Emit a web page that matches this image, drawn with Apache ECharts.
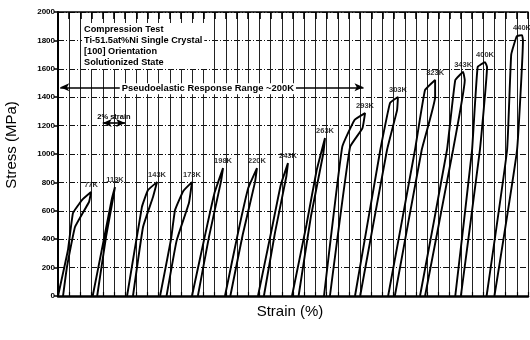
<!DOCTYPE html>
<html><head><meta charset="utf-8">
<script src="https://cdn.jsdelivr.net/npm/echarts@6/dist/echarts.min.js"></script>
<style>html,body{margin:0;padding:0;background:#fff}#c{width:530px;height:340px}</style>
</head><body><div id="c"></div>
<script>
// Temperature labels for each loading/unloading loop
const temps = ['77K','113K','143K','173K','198K','220K','243K','263K','293K','303K','323K','343K','400K','440K'];
// Each loop: [strain grid units, stress MPa] loading up to peak, then unloading
const c77  = [[0,0],[0.89,324],[1.34,584],[2.14,676],[2.95,732],[2.77,662],[1.52,486],[0.8,204],[0.45,0]];
const c113 = [[3.1,0],[4.1,400],[4.8,680],[5.09,767],[4.95,700],[4.3,420],[3.5,0]];
const c143 = [[6.17,0],[7.5,627],[8.04,746],[8.85,802],[8.49,697],[7.6,486],[6.7,0]];
const c173 = [[9.12,0],[10.1,400],[10.46,605],[11.2,740],[11.97,802],[11.7,655],[10.6,390],[9.7,0]];
const c198 = [[11.97,0],[13.2,450],[14.0,730],[14.75,901],[14.55,800],[13.5,420],[12.5,0]];
const c220 = [[14.92,0],[16.1,450],[17.0,760],[17.78,901],[17.6,800],[16.5,430],[15.4,0]];
const c243 = [[17.87,0],[19.1,470],[19.9,780],[20.55,936],[20.4,840],[19.4,450],[18.4,0]];
const c263 = [[20.91,0],[22.2,500],[23.1,880],[23.86,1112],[23.7,1000],[22.6,560],[21.5,0]];
const c293 = [[23.77,0],[25.4,1050],[26.5,1240],[27.44,1288],[27.2,1180],[26.1,1050],[24.3,0]];
const c303 = [[26.54,0],[28.8,1028],[29.67,1359],[30.38,1401],[30.3,1309],[29.4,1028],[27.0,0]];
const c323 = [[29.5,0],[31.9,1028],[32.8,1450],[33.7,1521],[33.7,1400],[32.5,1028],[30.1,0]];
const c343 = [[32.35,0],[34.76,1028],[35.5,1520],[36.2,1577],[36.35,1520],[35.3,1028],[32.8,0]];
const c400 = [[35.5,0],[37.0,1028],[37.5,1612],[38.16,1647],[38.34,1612],[37.7,1028],[36.0,0]];
const c440 = [[38.3,0],[40.13,1028],[40.5,1700],[41.0,1830],[41.47,1837],[41.55,1800],[41.02,1028],[39.0,0]];
const loops = [c77,c113,c143,c173,c198,c220,c243,c263,c293,c303,c323,c343,c400,c440];
// Annotation values
const pseudoRange = [[0.2,1470],[27.3,1470]];
const strainBar = [[4,1218],[6,1218]];
const infoLines = ['Compression Test','Ti-51.5at%Ni Single Crystal','[100] Orientation','Solutionized State'];

const FONT = 'Liberation Sans, Arial, sans-serif';
const chart = echarts.init(document.getElementById('c'), null, {renderer:'canvas'});

const series = loops.map((d,i)=>({
  type:'line', name:temps[i], data:d, showSymbol:false, smooth:0.1,
  lineStyle:{color:'#000', width:1.9}, z:3, animation:false
}));
series.push({
  type:'scatter', symbolSize:0, z:4, animation:false,
  data: loops.map((d,i)=>{
    const pk = d.reduce((a,b)=>b[1]>a[1]?b:a);
    return {value:[pk[0],pk[1]], name:temps[i]};
  }),
  label:{show:true, position:'top', distance:3, formatter:'{b}', color:'#000',
    fontSize:7.5, fontWeight:'bold', fontFamily:FONT}
});
series.push({
  type:'line', data:[], animation:false, z:5,
  markLine:{
    silent:true, animation:false, symbol:['arrow','arrow'], symbolSize:[6,9],
    lineStyle:{color:'#000', width:1.6, type:'solid'},
    data:[
      [{coord:pseudoRange[0], label:{show:true, position:'middle', formatter:'Pseudoelastic Response Range ~200K',
          color:'#000', fontSize:9.4, fontWeight:'bold', fontFamily:FONT, backgroundColor:'#fff', padding:[1,2], distance:0, offset:[-4,7]}},
       {coord:pseudoRange[1]}],
      [{coord:strainBar[0], label:{show:true, position:'insideMiddleTop', formatter:'2% strain',
          color:'#000', fontSize:7.5, fontWeight:'bold', fontFamily:FONT, distance:2}},
       {coord:strainBar[1]}]
    ]
  }
});

chart.setOption({
  animation:false,
  backgroundColor:'#fff',
  grid:{left:58, right:2, top:12, bottom:44},
  xAxis:[{
    type:'value', min:0, max:42, interval:1, position:'bottom',
    axisLine:{lineStyle:{color:'#000', width:2.5}},
    axisTick:{show:true, inside:true, length:4, lineStyle:{color:'#000', width:1.2}},
    axisLabel:{show:false},
    splitLine:{show:true, lineStyle:{color:'#222', width:1}}
  },{
    type:'value', min:0, max:42, interval:1, position:'top',
    axisLine:{show:true, lineStyle:{color:'#000', width:1.6}},
    axisTick:{show:true, inside:true, length:7, lineStyle:{color:'#000', width:1.6}},
    axisLabel:{show:false}, splitLine:{show:false}
  }],
  yAxis:{
    type:'value', min:0, max:2000, interval:200,
    axisLine:{show:true, lineStyle:{color:'#000', width:2}},
    axisTick:{show:true, length:4, lineStyle:{color:'#000', width:1.5}},
    axisLabel:{color:'#000', fontSize:8, fontWeight:'bold', fontFamily:FONT, margin:3,
      formatter:function(v){return String(v);}},
    splitLine:{show:true, lineStyle:{color:'#111', width:1.2, type:[6,2,1,2]}}
  },
  graphic:[
    {type:'text', left:82, top:23, z:10, style:{text:infoLines.join('\n'), font:'bold 9.2px '+FONT,
      fill:'#000', lineHeight:11, backgroundColor:'#fff', padding:[1,2]}},
    {type:'text', x:12, y:145, rotation:Math.PI/2, z:10, style:{text:'Stress (MPa)', font:'15px '+FONT,
      fill:'#000', align:'center', verticalAlign:'middle'}},
    {type:'text', x:290, y:312, z:10, style:{text:'Strain (%)', font:'15px '+FONT,
      fill:'#000', align:'center', verticalAlign:'middle'}}
  ],
  series:series
});
</script>
</body></html>
